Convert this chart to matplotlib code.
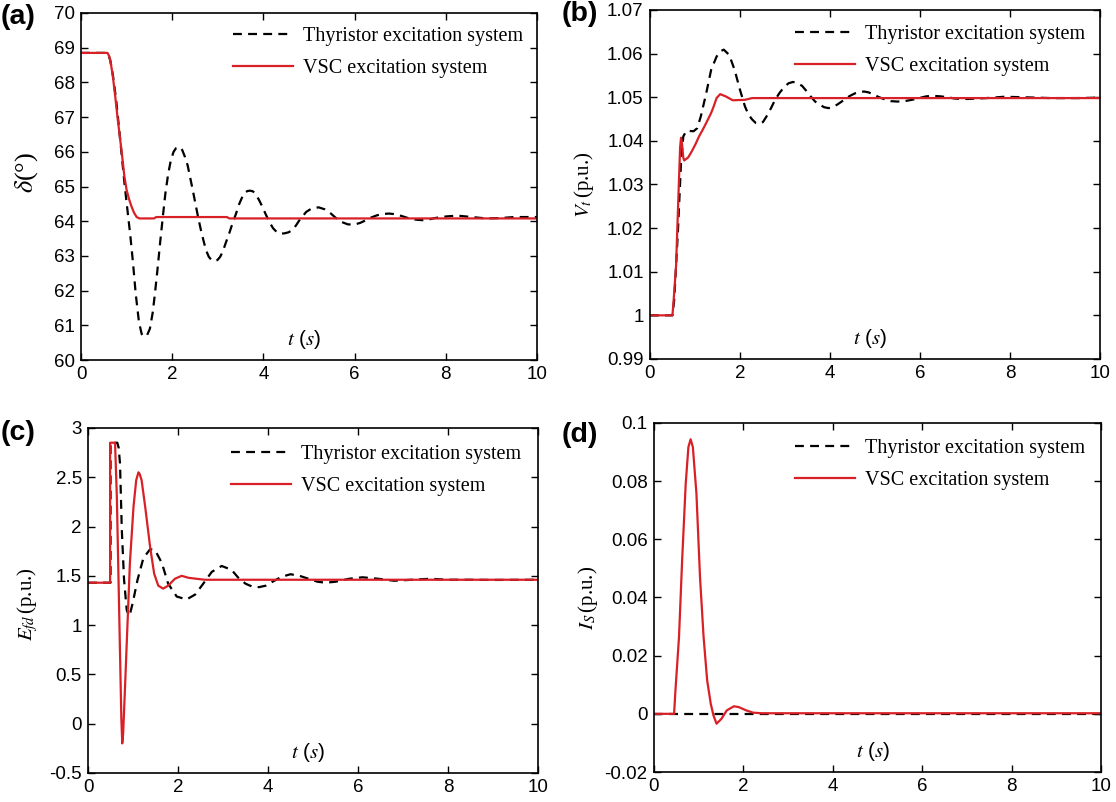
import numpy as np
import matplotlib
matplotlib.use('Agg')
import matplotlib.pyplot as plt
from matplotlib.ticker import FuncFormatter

plt.rcParams['font.family'] = 'Liberation Sans'
plt.rcParams['mathtext.fontset'] = 'stix'
plt.rcParams['axes.unicode_minus'] = False

# (a) rotor angle, deg   [t, value]
a_thy = np.array([
    [0, 68.85], [0.58, 68.85], [0.64, 68.65], [0.70, 68.2], [0.77, 67.5], [0.84, 66.6],
    [0.90, 65.8], [0.96, 65.0], [1.02, 64.3], [1.08, 63.6], [1.14, 62.8], [1.20, 61.9],
    [1.27, 61.1], [1.33, 60.75], [1.39, 60.67], [1.45, 60.72], [1.51, 60.9], [1.57, 61.35],
    [1.62, 61.9], [1.68, 62.65], [1.74, 63.45], [1.80, 64.2], [1.85, 64.8], [1.91, 65.35],
    [1.97, 65.76], [2.03, 66.0], [2.08, 66.1], [2.16, 66.14], [2.22, 66.05], [2.28, 65.85],
    [2.34, 65.6], [2.39, 65.28], [2.45, 64.9], [2.51, 64.5], [2.57, 64.1], [2.63, 63.74],
    [2.69, 63.42], [2.74, 63.17], [2.80, 62.98], [2.86, 62.88], [2.93, 62.85], [2.99, 62.88],
    [3.05, 62.97], [3.11, 63.13], [3.17, 63.36], [3.25, 63.65], [3.32, 63.93], [3.40, 64.22],
    [3.47, 64.5], [3.53, 64.68], [3.59, 64.82], [3.65, 64.87], [3.71, 64.88], [3.77, 64.86],
    [3.82, 64.8], [3.90, 64.62], [3.98, 64.41], [4.05, 64.2], [4.13, 63.98], [4.21, 63.8],
    [4.29, 63.69], [4.37, 63.64], [4.46, 63.65], [4.55, 63.68], [4.63, 63.74], [4.71, 63.87],
    [4.79, 64.03], [4.87, 64.16], [4.94, 64.27], [5.05, 64.36], [5.21, 64.4], [5.35, 64.34],
    [5.48, 64.22], [5.60, 64.08], [5.71, 63.98], [5.85, 63.91], [5.98, 63.9], [6.12, 63.95],
    [6.25, 64.03], [6.37, 64.11], [6.49, 64.17], [6.62, 64.21], [6.76, 64.22], [6.90, 64.2],
    [7.03, 64.15], [7.15, 64.1], [7.26, 64.06], [7.38, 64.04], [7.49, 64.03], [7.62, 64.05],
    [7.76, 64.09], [7.90, 64.12], [8.03, 64.14], [8.26, 64.16], [8.57, 64.12], [8.88, 64.08],
    [9.19, 64.09], [9.50, 64.12], [10.0, 64.12]])
a_vsc = np.array([
    [0, 68.85], [0.58, 68.85], [0.62, 68.75], [0.66, 68.5], [0.70, 68.15], [0.75, 67.6],
    [0.80, 67.0], [0.85, 66.45], [0.90, 65.9], [0.95, 65.3], [1.00, 64.9], [1.05, 64.65],
    [1.10, 64.45], [1.16, 64.25], [1.22, 64.12], [1.28, 64.08], [1.60, 64.08], [1.65, 64.12],
    [3.20, 64.12], [3.25, 64.08], [10.0, 64.08]])

# (b) terminal voltage, p.u.
b_thy = np.array([
    [0, 1.0], [0.5, 1.0], [0.54, 1.0037], [0.62, 1.019], [0.69, 1.035], [0.74, 1.041],
    [0.81, 1.0423], [0.97, 1.0422], [1.05, 1.0429], [1.13, 1.0456], [1.25, 1.0509],
    [1.36, 1.0563], [1.48, 1.0593], [1.56, 1.0605], [1.64, 1.0609], [1.76, 1.0597],
    [1.88, 1.0563], [2.0, 1.0517], [2.11, 1.0479], [2.19, 1.046], [2.27, 1.0449],
    [2.35, 1.0441], [2.43, 1.0439], [2.51, 1.0443], [2.59, 1.0456], [2.69, 1.0475],
    [2.78, 1.0494], [2.88, 1.051], [2.98, 1.0523], [3.08, 1.0532], [3.18, 1.0535],
    [3.28, 1.0532], [3.38, 1.0526], [3.47, 1.0515], [3.57, 1.0502], [3.67, 1.049],
    [3.77, 1.0483], [3.87, 1.0477], [3.97, 1.0475], [4.06, 1.0477], [4.16, 1.0483],
    [4.26, 1.049], [4.36, 1.0498], [4.46, 1.0504], [4.56, 1.0509], [4.66, 1.0512],
    [4.76, 1.0513], [4.86, 1.0511], [4.95, 1.0507], [5.07, 1.0501], [5.19, 1.0496],
    [5.35, 1.0491], [5.5, 1.049], [5.66, 1.0491], [5.82, 1.0494], [5.98, 1.0498],
    [6.14, 1.0502], [6.3, 1.0503], [6.45, 1.0502], [6.61, 1.05], [6.77, 1.0497],
    [6.92, 1.0496], [7.08, 1.0496], [7.28, 1.0497], [7.48, 1.0498], [7.87, 1.0501],
    [8.26, 1.05], [8.9, 1.0498], [9.5, 1.0498], [10.0, 1.0499]])
b_vsc = np.array([
    [0, 1.0], [0.5, 1.0], [0.53, 1.004], [0.58, 1.0113], [0.64, 1.0296], [0.67, 1.0385],
    [0.69, 1.0407], [0.71, 1.0395], [0.74, 1.0362], [0.76, 1.0355], [0.85, 1.0362],
    [0.93, 1.0376], [1.01, 1.0392], [1.09, 1.041], [1.17, 1.0425], [1.25, 1.0441],
    [1.36, 1.0464], [1.42, 1.048], [1.48, 1.0498], [1.56, 1.0507], [1.68, 1.0502],
    [1.84, 1.0493], [2.11, 1.0494], [2.27, 1.0498], [10.0, 1.0498]])

# (c) field voltage, p.u.
c_thy = np.array([
    [0, 1.43], [0.5, 1.43], [0.5, 2.85], [0.65, 2.85], [0.68, 2.8], [0.71, 2.64],
    [0.75, 1.97], [0.8, 1.46], [0.86, 1.15], [0.92, 1.09], [0.99, 1.22], [1.1, 1.46],
    [1.23, 1.68], [1.38, 1.77], [1.49, 1.76], [1.64, 1.63], [1.78, 1.42], [1.97, 1.29],
    [2.19, 1.26], [2.38, 1.31], [2.56, 1.42], [2.75, 1.54], [2.97, 1.6], [3.19, 1.56],
    [3.34, 1.48], [3.5, 1.42], [3.65, 1.39], [3.8, 1.385], [3.95, 1.4], [4.1, 1.44],
    [4.3, 1.49], [4.5, 1.516], [4.7, 1.5], [4.9, 1.47], [5.1, 1.44], [5.28, 1.43],
    [5.5, 1.44], [5.8, 1.47], [6.1, 1.485], [6.45, 1.47], [6.8, 1.45], [7.2, 1.46],
    [7.6, 1.47], [8.0, 1.46], [8.5, 1.46], [9.0, 1.458], [10.0, 1.46]])
c_vsc = np.array([
    [0, 1.43], [0.49, 1.43], [0.49, 2.85], [0.60, 2.85], [0.64, 2.3], [0.68, 1.4],
    [0.72, 0.5], [0.74, 0.05], [0.76, -0.2], [0.78, -0.1], [0.82, 0.35], [0.86, 0.82],
    [0.93, 1.63], [1.01, 2.2], [1.07, 2.47], [1.12, 2.55], [1.15, 2.53], [1.19, 2.47],
    [1.27, 2.2], [1.38, 1.79], [1.47, 1.52], [1.56, 1.4], [1.67, 1.37], [1.78, 1.4],
    [1.93, 1.47], [2.08, 1.5], [2.23, 1.48], [2.41, 1.47], [2.6, 1.46], [10.0, 1.46]])

# (d) converter current, p.u.
d_thy = np.array([[0, 0.0], [10.0, 0.0]])
d_vsc = np.array([
    [0, 0.0], [0.45, 0.0], [0.48, 0.008], [0.56, 0.0264], [0.63, 0.0528], [0.71, 0.0791],
    [0.77, 0.0917], [0.82, 0.0944], [0.87, 0.0917], [0.95, 0.0757], [1.03, 0.047],
    [1.11, 0.0264], [1.19, 0.0115], [1.27, 0.0035], [1.33, -0.0005], [1.40, -0.0034],
    [1.51, -0.0017], [1.63, 0.0012], [1.79, 0.0026], [1.9, 0.0023], [2.06, 0.0012],
    [2.22, 0.0004], [2.42, 0.0002], [10.0, 0.0002]])

legend_labels = ['Thyristor excitation system', 'VSC excitation system']
panels = [
    ('(a)', a_thy, a_vsc, (60, 70), np.arange(60, 71, 1), r'$\delta$(°)'),
    ('(b)', b_thy, b_vsc, (0.99, 1.07), np.arange(0.99, 1.0701, 0.01), r'$V_t\,$(p.u.)'),
    ('(c)', c_thy, c_vsc, (-0.5, 3), np.arange(-0.5, 3.01, 0.5), r'$E_{fd}\,$(p.u.)'),
    ('(d)', d_thy, d_vsc, (-0.02, 0.1), np.arange(-0.02, 0.1001, 0.02), r'$I_S\,$(p.u.)'),
]

rects = [[0.0726, 0.5511, 0.4086, 0.4327],
         [0.5824, 0.5524, 0.4033, 0.4352],
         [0.0789, 0.0362, 0.4032, 0.4302],
         [0.5860, 0.0374, 0.4005, 0.4352]]
label_x = [-0.09, -0.12, -0.107, -0.121]
label_y = [0.54, 0.5, 0.49, 0.5]
label_size = [19, 15, 15, 15]
legend_pad = [0.3, 0.35, 0.45, 0.4]
tag_pos = [(0.001, 0.995), (0.503, 0.999), (0.001, 0.476), (0.503, 0.474)]
red = '#d92027'

fig = plt.figure(figsize=(11.16, 8.02), dpi=100)

for i, (tag, thy, vsc, ylim, yt, ylab) in enumerate(panels):
    ax = fig.add_axes(rects[i])
    ax.plot(thy[:, 0], thy[:, 1], color='black', lw=1.6, dashes=(4, 2.8), label=legend_labels[0])
    ax.plot(vsc[:, 0], vsc[:, 1], color=red, lw=1.6, label=legend_labels[1])
    ax.set_xlim(0, 10)
    ax.set_ylim(*ylim)
    ax.set_xticks(np.arange(0, 11, 2))
    ax.set_yticks(yt)
    ax.yaxis.set_major_formatter(FuncFormatter(lambda v, p: '%g' % round(v, 4)))
    ax.tick_params(direction='in', top=True, right=True, length=5, width=1,
                   labelsize=13.5, pad=4.5)
    for s in ax.spines.values():
        s.set_linewidth(1.2)
    ax.set_ylabel(ylab, family='Liberation Serif', fontsize=label_size[i])
    ax.yaxis.set_label_coords(label_x[i], label_y[i])
    ax.text(0.49, 0.058, r'$t$ ($s$)', transform=ax.transAxes, ha='center', va='center',
            fontsize=15)
    ax.legend(loc='upper right', frameon=False, prop={'family': 'Liberation Serif', 'size': 14.5},
              handlelength=2.95, handletextpad=0.5, labelspacing=0.65,
              borderaxespad=legend_pad[i])
    fig.text(tag_pos[i][0], tag_pos[i][1], tag, ha='left', va='top', fontsize=20.5,
             fontweight='bold')

fig.savefig('out.png', dpi=100)
